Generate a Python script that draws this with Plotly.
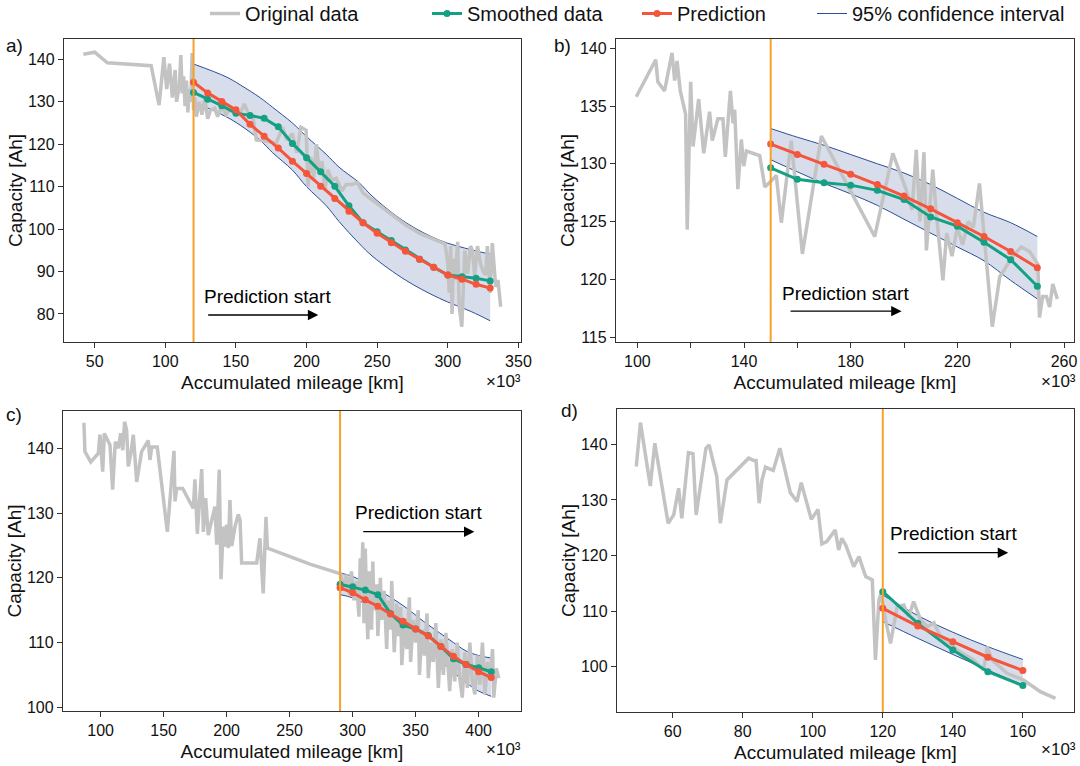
import plotly.graph_objects as go

FONT = "Liberation Sans, Arial, Helvetica, sans-serif"
GRAY = "#c3c3c3"
GREEN = "#14a083"
RED = "#f5553a"
BLUE = "#2b4f97"
BAND = "rgba(57,86,150,0.2)"
ORANGE = "#f7a12b"

# ---------------- Panel a ----------------
a_orig_x = [42, 50, 59, 90, 95.6, 99, 101, 103, 105, 107, 108, 110, 111, 112, 113, 114, 115, 116, 117, 118, 119, 120,
            121, 122, 124, 126, 128, 130, 132, 135, 137, 140, 143, 146, 150, 153, 156, 159, 162, 164.4, 170, 178.5,
            183, 186, 190, 193, 196, 199.7, 201, 203, 205, 207, 209, 211, 213, 215, 218, 221, 225, 228, 232, 236,
            240, 250, 260, 270, 280, 290, 298, 300, 301, 302, 303, 304, 305, 307, 308, 309.9, 312, 314, 316, 317.3,
            319, 321, 323, 325, 326.8, 328, 330, 331.5, 333.9, 335.5, 337.4]
a_orig_y = [141.2, 141.7, 139.2, 138.5, 129.2, 140.5, 133, 139, 131, 137.5, 130, 134, 141, 132, 136, 129, 135, 127.5,
            133, 130, 141.5, 128,
            131, 126.5, 130, 127, 131, 126, 128, 128.5, 126.5, 129, 127, 128.5, 128, 127.3, 129.5, 127, 126.5, 121,
            120.8, 120.3, 124, 121, 122.5, 118, 124, 123.3, 110, 117, 112, 120, 113, 116, 109, 114, 111.5, 112, 109,
            110.5, 110.5, 111, 108.5, 106, 103.5, 101, 99, 97.5, 96.5, 92, 85, 96, 80, 93, 88, 97, 82, 77, 95, 89.5,
            96, 95.1, 89, 96, 92, 90, 89.2, 96, 85, 96.7, 86.4, 88, 81.7]
a_step_x = [120, 130, 140, 150, 160, 170, 180, 190, 200, 210, 220, 230, 240, 250, 260, 270, 280, 290, 300, 310, 320, 330]
a_smooth_y = [132.2, 130.6, 129.1, 127.3, 126.8, 126.1, 124.1, 120.2, 116.8, 113.5, 110.1, 105.5, 101.5, 99.4, 97.3,
              95.1, 92.9, 91.0, 89.2, 88.8, 88.4, 87.8]
a_pred_y = [134.6, 132.1, 130.1, 128.1, 124.7, 121.9, 119.1, 116.0, 113.1, 110.1, 107.2, 104.2, 101.5, 99.0, 96.8,
            94.8, 92.9, 91.0, 89.2, 88.2, 87.0, 86.1]
a_band_x = [120, 143, 153, 167, 176, 190, 200, 214, 223, 237, 247, 270, 294, 317, 330]
a_band_upper = [138.9, 135.9, 134.0, 131.0, 128.7, 125.0, 121.8, 117.6, 114.6, 111.0, 107.6, 101.6, 97.4, 95.1, 94.1]
a_band_lower = [130.0, 126.5, 124.5, 121.0, 118.0, 113.9, 110.0, 105.5, 101.8, 96.7, 93.5, 88.0, 83.7, 80.5, 78.4]

# ---------------- Panel b ----------------
b_orig_x = [99.6, 106.9, 107.7, 110.2, 113, 114, 114.9, 116.1, 118.1, 118.7, 120, 120.9, 123, 124.9, 127.1, 128.1,
            130.2, 132.1, 133, 134.9, 135.9, 136.5, 137.7, 139, 139.9, 140.9, 145.9, 147.8, 150.2, 152.1, 154,
            157.7, 161.9, 169, 178, 189, 195.8, 200.9, 203, 204.6, 206, 207.5, 208.4, 210.8, 212, 214.6, 216, 218,
            220, 222, 224, 226, 228.3, 229.5, 231, 233.1, 235.9, 240.8, 244, 247.1, 250.2, 250.8, 252, 253.4, 254.6,
            255.8, 257.5]
b_orig_y = [135.8, 139.0, 137.1, 136.3, 139.6, 137.2, 138.9, 136.3, 134.3, 124.3, 137.1, 131.5, 135.6, 130.9, 134.5,
            132.0, 133.9, 133.9, 130.6, 136.3, 133.5, 134.7, 127.8, 132.1, 129.8, 131.1, 130.7, 128.0, 128.5, 129.0,
            124.9, 132.0, 122.2, 132.4, 128.5, 123.7, 130.9, 127.7, 126.0, 131.2, 125.0, 131.0, 122.5, 129.5, 126.0,
            119.9, 124.0, 122.0, 124.5, 123.0, 125.0, 124.5, 128.3, 125.0, 121.0, 115.9, 120.2, 122.0, 122.8, 122.4,
            121.3, 116.7, 118.5, 118.5, 117.6, 119.6, 118.3]
b_step_x = [150, 160, 170, 180, 190, 200, 210, 220, 230, 240, 250]
b_smooth_y = [129.65, 128.65, 128.35, 128.15, 127.7, 126.9, 125.4, 124.6, 123.2, 121.7, 119.4]
b_pred_y = [131.7, 130.8, 129.95, 129.1, 128.2, 127.2, 126.1, 124.9, 123.7, 122.4, 121.0]
b_band_x = [150, 160, 170, 180, 190, 200, 210, 220, 230, 240, 250]
b_band_upper = [133.05, 132.3, 131.6, 130.8, 130.0, 129.2, 128.2, 127.0, 125.8, 124.9, 123.7]
b_band_lower = [130.35, 129.3, 128.3, 127.4, 126.4, 125.2, 124.0, 122.8, 121.6, 119.9, 118.3]

# ---------------- Panel c ----------------
c_orig_x = [86.7, 87.5, 92.1, 98.1, 99.4, 101.6, 102.9, 107.4, 109.5, 111.6, 114, 115.9, 117.5, 119, 120.6, 121.9,
            124, 125.9, 128.6, 132.5, 137.8, 139.1, 140.5, 144.9, 152.9, 158.2, 159, 160.3, 165.1, 173.5, 174.8,
            176.7, 180.2, 181.5, 183.3, 185.4, 190.7, 192.1, 194.1, 195.5, 197.3, 198.6, 200, 201.3, 202.6, 204,
            206.6, 209.2, 210.6, 211.9, 223.8, 226.4, 229, 231.2, 232.3, 266.1, 290.5,
            291, 293, 295, 297, 299, 301, 303, 305, 306, 307, 308, 309, 310, 311, 312, 313, 315, 316, 317, 319, 320,
            322, 323, 325, 327, 328, 330, 331, 333, 335, 336, 338, 339, 341, 343, 345, 346, 348, 350, 352, 353, 355,
            357, 359, 360, 362, 364, 366, 368, 370, 372, 374, 376, 377, 379, 381, 383, 385, 387, 389, 391, 393, 395,
            397, 399, 401, 403, 405, 407, 409, 411, 412, 414, 416]
c_orig_y = [143.95, 139.5, 137.9, 139.2, 142.1, 136.4, 142.3, 140.5, 133.6, 141.0, 140.0, 142.3, 139.7, 144.1, 142.8,
            137.2, 139.2, 142.1, 134.8, 139.5, 141.2, 138.2, 140.2, 140.2, 127.1, 139.6, 131.8, 133.8, 133.8, 130.7,
            135.2, 126.8, 136.8, 127.1, 132.3, 126.6, 131.0, 125.1, 136.7, 119.8, 127.9, 124.8, 128.2, 124.6, 132.0,
            124.9, 127.9, 129.8, 128.9, 122.3, 122.3, 126.1, 117.6, 129.4, 124.6, 122.1, 120.6,
            120.2, 118, 120.5, 117.5, 121, 116.5, 119.5, 114, 123, 118, 125.5, 113, 124.5, 117, 110.5, 121, 112,
            122.5, 115, 119, 111, 120, 113.5, 118, 109, 116.5, 112, 119.5, 108.5, 116, 111, 115.5, 106.5, 113, 109,
            117, 107, 113.5, 110, 115, 105, 112, 108, 114.5, 104.5, 110, 107, 113, 103, 110.5, 105, 111.5, 106,
            102.5, 109, 104, 110, 104.5, 101.5, 108.5, 103, 110, 104, 102, 108, 103.5, 110, 102, 107, 104.5, 109,
            101.5, 106, 104.5]
c_step_x = [290, 300, 310, 320, 330, 340, 350, 360, 370, 380, 390, 400, 410]
c_smooth_y = [119.0, 118.6, 118.1, 117.4, 114.5, 112.7, 112.1, 111.1, 109.4, 107.5, 106.6, 106.1, 105.5]
c_pred_y = [118.45, 117.7, 116.6, 115.6, 114.4, 113.3, 112.1, 111.0, 109.4, 107.9, 106.6, 105.5, 104.6]
c_band_x = [290, 300, 316, 330, 343, 356, 369, 380, 390, 400, 410]
c_band_upper = [120.75, 120.2, 118.6, 117.0, 115.3, 113.3, 111.5, 110.0, 108.7, 108.0, 107.6]
c_band_lower = [117.4, 116.9, 115.3, 113.4, 111.45, 109.3, 107.3, 105.4, 103.8, 102.5, 101.7]

# ---------------- Panel d ----------------
d_orig_x = [49.6, 50.8, 53.6, 54.9, 58.7, 60.3, 61.7, 62.6, 64.5, 65.8, 66.7, 69.5, 70.4, 72.6, 73.6, 75.5, 81.7,
            83.1, 83.8, 84.7, 85.5, 86.5, 88.7, 90.6, 93.6, 95.5, 96.7, 99.6, 101.5, 102.6, 104, 106.4, 107.4,
            108.3, 109.4, 110.2, 111.7, 113.2, 115.1, 117, 117.9, 118.9, 119.5, 120.8, 122.2, 124.1, 126, 127.4,
            128.8, 130.8, 132.8, 134.6, 136.5, 139.3, 141.2, 146, 148.8, 149.8, 151.2, 155.5, 160.2, 165, 169.3]
d_orig_y = [136.0, 143.9, 132.5, 140.2, 125.8, 127.3, 132.1, 126.7, 138.5, 138.3, 127.3, 139.3, 139.9, 134.2, 125.8,
            133.6, 137.5, 137.1, 137.1, 129.4, 133.6, 135.9, 135.3, 139.3, 131.3, 129.7, 133.1, 126.5, 128.3, 122.1,
            122.5, 124.6, 121.0, 123.1, 121.9, 120.5, 118.0, 119.8, 116.2, 115.6, 101.2, 112.0, 113.2, 108.4, 104.2,
            110.8, 111.1, 109.0, 111.7, 108.4, 107.2, 107.9, 105.4, 104.2, 103.0, 101.2, 99.4, 103.6, 101.2, 98.8,
            97.6, 95.5, 94.3]
d_step_x = [120, 130, 140, 150, 160]
d_smooth_y = [113.5, 107.8, 103.0, 99.1, 96.6]
d_pred_y = [110.5, 107.3, 104.5, 101.7, 99.3]
d_band_x = [120, 130, 140, 150, 160]
d_band_upper = [112.9, 109.2, 106.2, 103.6, 101.3]
d_band_lower = [108.1, 105.1, 102.2, 99.4, 96.7]

pred_start = [120, 150, 290, 120]

panels = [
    (a_orig_x, a_orig_y, a_step_x, a_smooth_y, a_pred_y, a_band_x, a_band_upper, a_band_lower),
    (b_orig_x, b_orig_y, b_step_x, b_smooth_y, b_pred_y, b_band_x, b_band_upper, b_band_lower),
    (c_orig_x, c_orig_y, c_step_x, c_smooth_y, c_pred_y, c_band_x, c_band_upper, c_band_lower),
    (d_orig_x, d_orig_y, d_step_x, d_smooth_y, d_pred_y, d_band_x, d_band_upper, d_band_lower),
]

fig = go.Figure()
for i, (ox, oy, sx, sy, py, bx, bu, bl) in enumerate(panels):
    xa = "x" if i == 0 else f"x{i+1}"
    ya = "y" if i == 0 else f"y{i+1}"
    first = i == 0
    fig.add_trace(go.Scatter(x=bx, y=bu, mode="lines", line=dict(color=BLUE, width=1, shape="spline"),
                             name="95% confidence interval", showlegend=first, legend="legend4",
                             xaxis=xa, yaxis=ya))
    fig.add_trace(go.Scatter(x=bx, y=bl, mode="lines", line=dict(color=BLUE, width=1, shape="spline"),
                             fill="tonexty", fillcolor=BAND, showlegend=False, xaxis=xa, yaxis=ya))
    fig.add_trace(go.Scatter(x=ox, y=oy, mode="lines", line=dict(color=GRAY, width=3.5),
                             name="Original data", showlegend=first, legend="legend",
                             xaxis=xa, yaxis=ya))
    fig.add_trace(go.Scatter(x=sx, y=sy, mode="lines+markers", line=dict(color=GREEN, width=3),
                             marker=dict(color=GREEN, size=7), name="Smoothed data",
                             showlegend=first, legend="legend2", xaxis=xa, yaxis=ya))
    fig.add_trace(go.Scatter(x=sx, y=py, mode="lines+markers", line=dict(color=RED, width=3),
                             marker=dict(color=RED, size=7), name="Prediction",
                             showlegend=first, legend="legend3", xaxis=xa, yaxis=ya))
    fig.add_shape(type="line", xref=xa, yref=f"{ya} domain", x0=pred_start[i], x1=pred_start[i],
                  y0=0, y1=1, line=dict(color=ORANGE, width=2), layer="above")

W, H = 1080, 766
def px(v):
    return v / W
def py_(v):
    return 1 - v / H

axis_common = dict(showline=True, mirror=True, linecolor="#333333", linewidth=1.3, ticks="outside",
                   ticklen=5, tickwidth=1.2, tickcolor="#333333", showgrid=False, zeroline=False,
                   tickfont=dict(size=16, color="#111111", family=FONT))

x_title = dict(text="Accumulated mileage [km]", font=dict(size=19, color="#111111", family=FONT), standoff=6)
y_title = dict(text="Capacity [Ah]", font=dict(size=19, color="#111111", family=FONT), standoff=0)

fig.update_layout(
    width=W, height=H, margin=dict(l=0, r=0, t=0, b=0, autoexpand=False),
    paper_bgcolor="white", plot_bgcolor="white",
    font=dict(family=FONT, color="#111111"),
    xaxis=dict(domain=[px(64), px(521)], range=[28.3, 351.8], tickvals=[50, 100, 150, 200, 250, 300, 350],
               anchor="y", title=x_title, **axis_common),
    yaxis=dict(domain=[py_(342), py_(39)], range=[73.4, 144.8], tickvals=[80, 90, 100, 110, 120, 130, 140],
               anchor="x", title=y_title, **axis_common),
    xaxis2=dict(domain=[px(616), px(1074)], range=[92, 263.75],
                tickvals=[100, 120, 140, 160, 180, 200, 220, 240, 260],
                ticktext=["100", "", "140", "", "180", "", "220", "", "260"],
                anchor="y2", title=x_title, **axis_common),
    yaxis2=dict(domain=[py_(342), py_(39)], range=[114.57, 140.8], tickvals=[115, 120, 125, 130, 135, 140],
                anchor="x2", title=y_title, **axis_common),
    xaxis3=dict(domain=[px(63), px(521)], range=[70.1, 433.6], tickvals=[100, 150, 200, 250, 300, 350, 400],
                anchor="y3", title=x_title, **axis_common),
    yaxis3=dict(domain=[py_(711), py_(411)], range=[99.43, 145.76], tickvals=[100, 110, 120, 130, 140],
                anchor="x3", title=y_title, **axis_common),
    xaxis4=dict(domain=[px(617), px(1074)], range=[44.1, 174.6], tickvals=[60, 80, 100, 120, 140, 160],
                anchor="y4", title=x_title, **axis_common),
    yaxis4=dict(domain=[py_(712), py_(409)], range=[91.85, 146.35], tickvals=[100, 110, 120, 130, 140],
                anchor="x4", title=y_title, **axis_common),
)

leg_common = dict(orientation="h", yanchor="top", y=1 + 6 / H, xanchor="left", bgcolor="rgba(0,0,0,0)",
                  font=dict(size=20, family=FONT, color="#111111"), borderwidth=0)
fig.update_layout(
    legend=dict(x=px(205), **leg_common),
    legend2=dict(x=px(427), **leg_common),
    legend3=dict(x=px(637), **leg_common),
    legend4=dict(x=px(812), **leg_common),
)

# panel labels
for lab, xx, yy in [("a)", 4, 45), ("b)", 552, 45), ("c)", 4, 414), ("d)", 559, 411)]:
    fig.add_annotation(text=lab, x=px(xx), y=py_(yy), xref="paper", yref="paper", xanchor="left",
                       yanchor="middle", showarrow=False, font=dict(size=19, family=FONT, color="#111111"))

# x10^3 labels
for xx, yy in [(503.5, 381.6), (1058, 381.6), (503.5, 749), (1058, 749)]:
    fig.add_annotation(text="×10³", x=px(xx), y=py_(yy), xref="paper", yref="paper", xanchor="center",
                       yanchor="middle", showarrow=False, font=dict(size=17, family=FONT, color="#111111"))

# "Prediction start" texts and arrows (data coordinates)
pred_text = [(172.7, 84.07), (178.1, 118.77), (352.5, 130.05), (140.1, 123.87)]
arrow_tail = [(129.3, 79.76), (156.9, 117.24), (307.2, 127.12), (124.0, 120.5)]
arrow_head = [(208.3, 79.76), (199.1, 117.24), (396.6, 127.12), (155.8, 120.5)]
for i in range(4):
    xa = "x" if i == 0 else f"x{i+1}"
    ya = "y" if i == 0 else f"y{i+1}"
    fig.add_annotation(text="Prediction start", x=pred_text[i][0], y=pred_text[i][1], xref=xa, yref=ya,
                       showarrow=False, font=dict(size=19, family=FONT, color="#000000"))
    fig.add_annotation(text="", x=arrow_head[i][0], y=arrow_head[i][1], ax=arrow_tail[i][0], ay=arrow_tail[i][1],
                       xref=xa, yref=ya, axref=xa, ayref=ya, showarrow=True, arrowhead=2, arrowsize=1.6,
                       arrowwidth=1.3, arrowcolor="#000000", standoff=0, startstandoff=0)

fig.write_html("out.html", config={"displayModeBar": False},
               post_script="document.body.style.margin='0';document.body.style.overflow='hidden';")
